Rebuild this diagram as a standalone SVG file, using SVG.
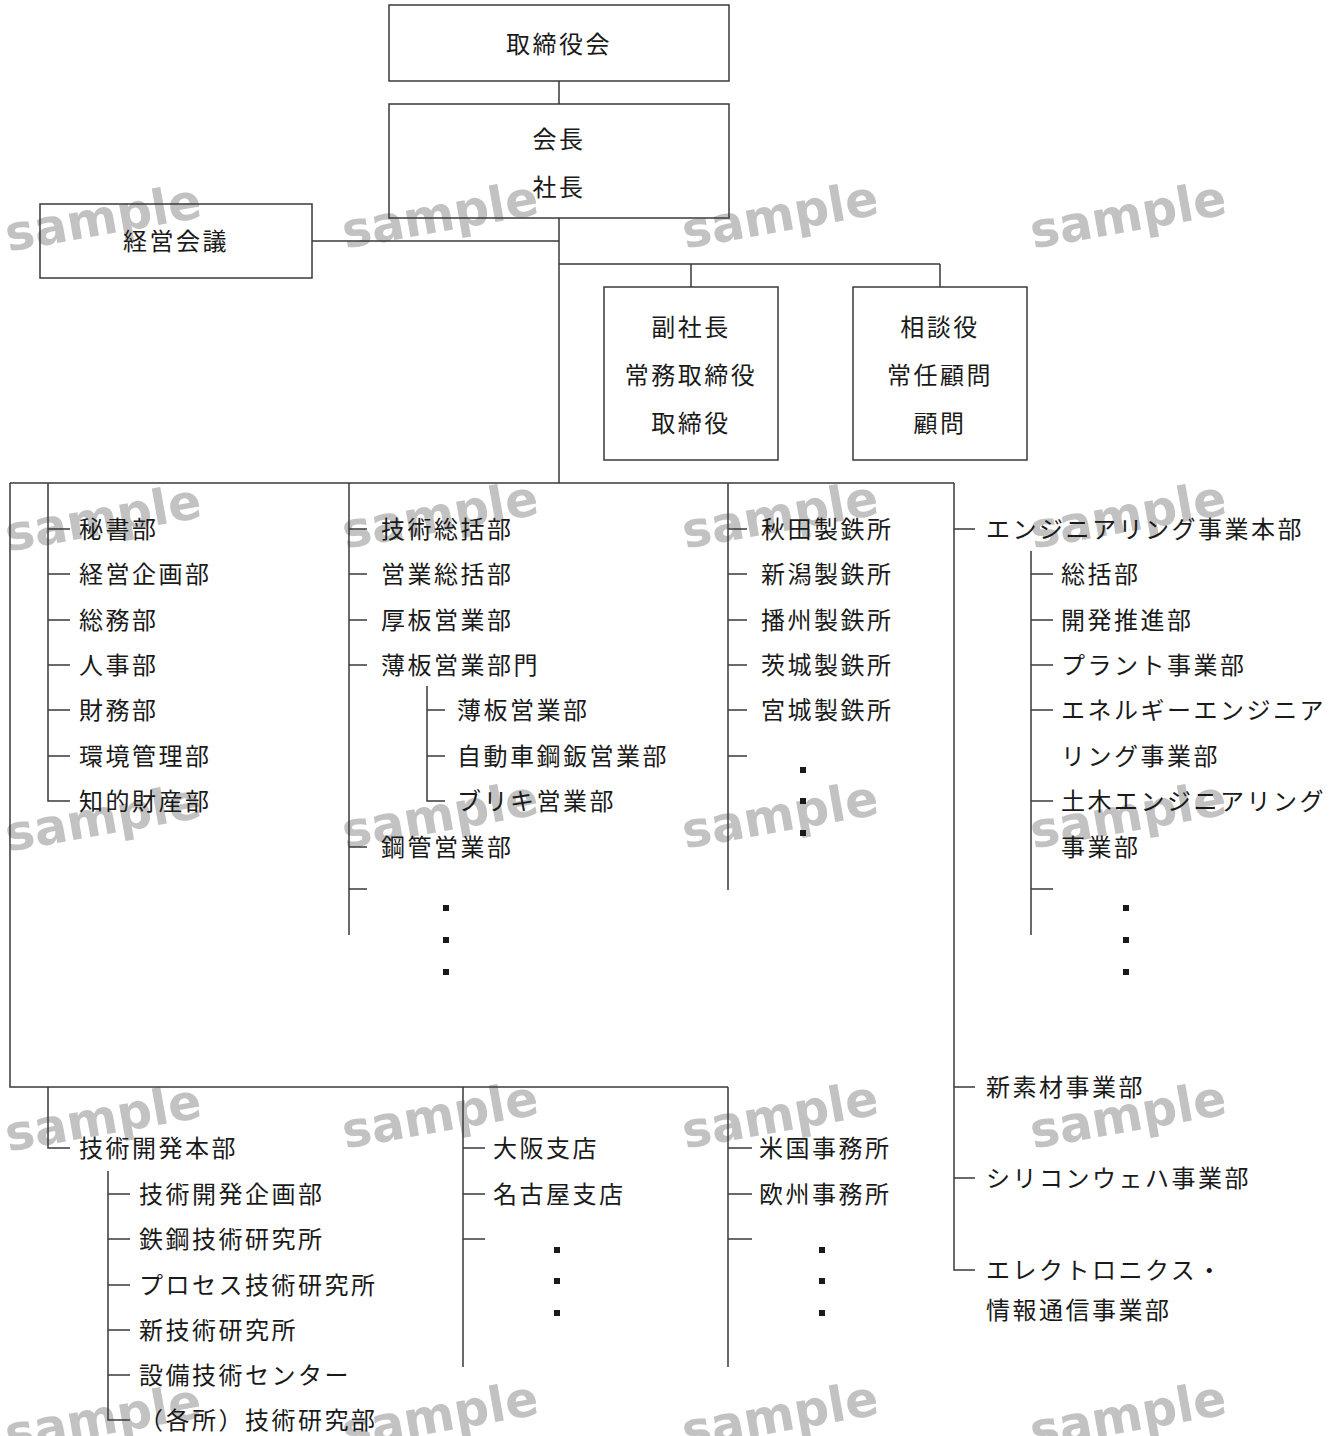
<svg xmlns="http://www.w3.org/2000/svg" width="1338" height="1436" viewBox="0 0 1338 1436">
<style>
.bg{fill:#ffffff}
.box{fill:none;stroke:#3a3a3a;stroke-width:1.5}
.ln{fill:none;stroke:#3a3a3a;stroke-width:1.5}
.t{font-family:"Noto Sans CJK JP","Noto Sans",sans-serif;font-size:24px;letter-spacing:2.5px;fill:#1a1a1a;dominant-baseline:central;transform:translateY(-2px)}
.c{text-anchor:middle}
.wm{font-family:"DejaVu Sans",sans-serif;font-weight:bold;font-size:49px;fill:#c2c2c2;text-anchor:middle;dominant-baseline:central}
.dot{fill:#1a1a1a}
</style>
<rect class="bg" x="0" y="0" width="1338" height="1436"/>
<g id="watermarks">
<text class="wm" transform="translate(103,218) rotate(-10)">sample</text>
<text class="wm" transform="translate(440,215) rotate(-10)">sample</text>
<text class="wm" transform="translate(780,215) rotate(-10)">sample</text>
<text class="wm" transform="translate(1128,215) rotate(-10)">sample</text>
<text class="wm" transform="translate(103,518) rotate(-10)">sample</text>
<text class="wm" transform="translate(440,515) rotate(-10)">sample</text>
<text class="wm" transform="translate(780,515) rotate(-10)">sample</text>
<text class="wm" transform="translate(1128,515) rotate(-10)">sample</text>
<text class="wm" transform="translate(103,818) rotate(-10)">sample</text>
<text class="wm" transform="translate(440,815) rotate(-10)">sample</text>
<text class="wm" transform="translate(780,815) rotate(-10)">sample</text>
<text class="wm" transform="translate(1128,815) rotate(-10)">sample</text>
<text class="wm" transform="translate(103,1118) rotate(-10)">sample</text>
<text class="wm" transform="translate(440,1115) rotate(-10)">sample</text>
<text class="wm" transform="translate(780,1115) rotate(-10)">sample</text>
<text class="wm" transform="translate(1128,1115) rotate(-10)">sample</text>
<text class="wm" transform="translate(103,1418) rotate(-10)">sample</text>
<text class="wm" transform="translate(440,1415) rotate(-10)">sample</text>
<text class="wm" transform="translate(780,1415) rotate(-10)">sample</text>
<text class="wm" transform="translate(1128,1415) rotate(-10)">sample</text>
</g>
<g id="connectors">
<path class="ln" d="M559 81V104 M559 218V483 M312 241H559 M559 264H940 M691 264V287 M940 264V287"/>
<path class="ln" d="M10 483H954 M10 483V1087H728 M954 483V1270H975"/>
<path class="ln" d="M48 483V801H70 M48 529H70 M48 574H70 M48 620H70 M48 665H70 M48 710H70 M48 756H70"/>
<path class="ln" d="M349 483V935 M349 529H367 M349 574H367 M349 620H367 M349 665H367 M349 847H367 M349 889H367 M427 686V801H445 M427 710H445 M427 756H445"/>
<path class="ln" d="M728 483V890 M728 529H747 M728 574H747 M728 620H747 M728 665H747 M728 710H747 M728 756H747"/>
<path class="ln" d="M954 529H975 M1031 551V935 M1031 574H1053 M1031 620H1053 M1031 665H1053 M1031 710H1053 M1031 801H1053 M1031 889H1053"/>
<path class="ln" d="M48 1087V1148H70 M108 1171V1420H130 M108 1194H130 M108 1239H130 M108 1285H130 M108 1330H130 M108 1375H130"/>
<path class="ln" d="M463 1087V1367 M463 1148H485 M463 1194H485 M463 1239H485 M728 1087V1367 M728 1148H752 M728 1194H752 M728 1239H752"/>
<path class="ln" d="M954 1087H975 M954 1178H975"/>
</g>
<g id="n-torishimariyakukai"><rect class="box" x="389" y="5" width="340" height="76"/><text class="t c" x="559" y="44">取締役会</text></g>
<g id="n-kaicho"><rect class="box" x="389" y="104" width="340" height="114"/><text class="t c" x="559" y="139">会長</text><text class="t c" x="559" y="187">社長</text></g>
<g id="n-keiei"><rect class="box" x="40" y="204" width="272" height="74"/><text class="t c" x="176" y="241">経営会議</text></g>
<g id="n-fukushacho"><rect class="box" x="604" y="287" width="174" height="173"/><text class="t c" x="691" y="327">副社長</text><text class="t c" x="691" y="375">常務取締役</text><text class="t c" x="691" y="423">取締役</text></g>
<g id="n-sodan"><rect class="box" x="853" y="287" width="174" height="173"/><text class="t c" x="940" y="327">相談役</text><text class="t c" x="940" y="375">常任顧問</text><text class="t c" x="940" y="423">顧問</text></g>
<g id="n-col1">
<text class="t" x="79" y="529">秘書部</text>
<text class="t" x="79" y="574">経営企画部</text>
<text class="t" x="79" y="620">総務部</text>
<text class="t" x="79" y="665">人事部</text>
<text class="t" x="79" y="710">財務部</text>
<text class="t" x="79" y="756">環境管理部</text>
<text class="t" x="79" y="801">知的財産部</text>
</g>
<g id="n-col2">
<text class="t" x="381" y="529">技術総括部</text>
<text class="t" x="381" y="574">営業総括部</text>
<text class="t" x="381" y="620">厚板営業部</text>
<text class="t" x="381" y="665">薄板営業部門</text>
<text class="t" x="457" y="710">薄板営業部</text>
<text class="t" x="457" y="756">自動車鋼鈑営業部</text>
<text class="t" x="457" y="801">ブリキ営業部</text>
<text class="t" x="381" y="847">鋼管営業部</text>
<rect class="dot" x="443" y="905" width="6" height="6"/>
<rect class="dot" x="443" y="937" width="6" height="6"/>
<rect class="dot" x="443" y="969" width="6" height="6"/>
</g>
<g id="n-col3">
<text class="t" x="761" y="529">秋田製鉄所</text>
<text class="t" x="761" y="574">新潟製鉄所</text>
<text class="t" x="761" y="620">播州製鉄所</text>
<text class="t" x="761" y="665">茨城製鉄所</text>
<text class="t" x="761" y="710">宮城製鉄所</text>
<rect class="dot" x="800" y="767" width="6" height="6"/>
<rect class="dot" x="800" y="798" width="6" height="6"/>
<rect class="dot" x="800" y="830" width="6" height="6"/>
</g>
<g id="n-col4">
<text class="t" x="986" y="529">エンジニアリング事業本部</text>
<text class="t" x="1061" y="574">総括部</text>
<text class="t" x="1061" y="620">開発推進部</text>
<text class="t" x="1061" y="665">プラント事業部</text>
<text class="t" x="1061" y="710">エネルギーエンジニア</text>
<text class="t" x="1061" y="756">リング事業部</text>
<text class="t" x="1061" y="801">土木エンジニアリング</text>
<text class="t" x="1061" y="847">事業部</text>
<rect class="dot" x="1123" y="905" width="6" height="6"/>
<rect class="dot" x="1123" y="937" width="6" height="6"/>
<rect class="dot" x="1123" y="969" width="6" height="6"/>
</g>
<g id="n-gijutsu">
<text class="t" x="79" y="1148">技術開発本部</text>
<text class="t" x="139" y="1194">技術開発企画部</text>
<text class="t" x="139" y="1239">鉄鋼技術研究所</text>
<text class="t" x="139" y="1285">プロセス技術研究所</text>
<text class="t" x="139" y="1330">新技術研究所</text>
<text class="t" x="139" y="1375">設備技術センター</text>
<text class="t" x="139" y="1420">（各所）技術研究部</text>
</g>
<g id="n-shiten">
<text class="t" x="493" y="1148">大阪支店</text>
<text class="t" x="493" y="1194">名古屋支店</text>
<rect class="dot" x="554" y="1247" width="6" height="6"/>
<rect class="dot" x="554" y="1278" width="6" height="6"/>
<rect class="dot" x="554" y="1310" width="6" height="6"/>
</g>
<g id="n-jimusho">
<text class="t" x="759" y="1148">米国事務所</text>
<text class="t" x="759" y="1194">欧州事務所</text>
<rect class="dot" x="819" y="1247" width="6" height="6"/>
<rect class="dot" x="819" y="1278" width="6" height="6"/>
<rect class="dot" x="819" y="1310" width="6" height="6"/>
</g>
<g id="n-jigyobu">
<text class="t" x="986" y="1087">新素材事業部</text>
<text class="t" x="986" y="1178">シリコンウェハ事業部</text>
<text class="t" x="986" y="1270">エレクトロニクス・</text>
<text class="t" x="986" y="1310">情報通信事業部</text>
</g>
</svg>
